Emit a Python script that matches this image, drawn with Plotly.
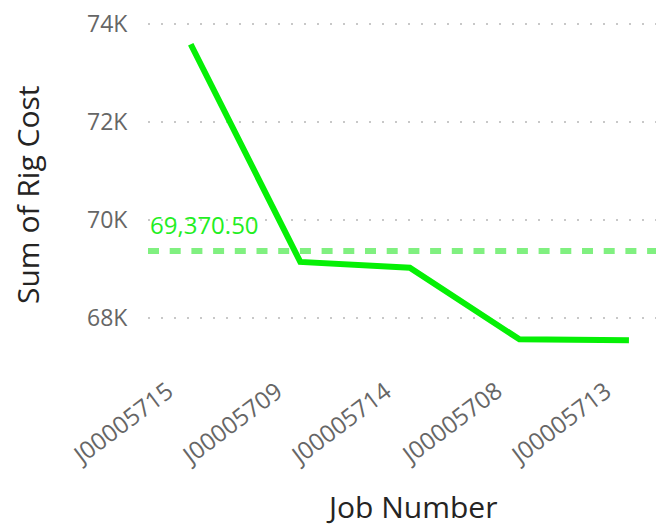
import plotly.graph_objects as go

jobs = ["J00005715", "J00005709", "J00005714", "J00005708", "J00005713"]
rig_cost = [73590, 69150, 69030, 67570, 67550]
average_value = 69370.50
y_ticks = [68000, 70000, 72000, 74000]
y_tick_labels = ["68K", "70K", "72K", "74K"]
x_title = "Job Number"
y_title = "Sum of Rig Cost"

FONT = "Open Sans, Noto Sans, sans-serif"

fig = go.Figure()
fig.add_trace(go.Scatter(
    x=jobs, y=rig_cost, mode="lines",
    line=dict(color="#05F005", width=6),
    hoverinfo="skip", showlegend=False,
))

fig.add_hline(y=average_value, line=dict(color="#80F080", width=6, dash="11px,10.7px"),
              layer="above")
fig.add_annotation(
    x=0, xref="paper", y=average_value, yref="y",
    text=f"{average_value:,.2f}", showarrow=False,
    xanchor="left", yanchor="middle", xshift=0, yshift=27,
    font=dict(family=FONT, size=24, color="#22EE22"),
)

# category tick labels
for j in jobs:
    fig.add_annotation(
        x=j, xref="x", y=0, yref="paper", text=j, showarrow=False,
        textangle=-37, xanchor="right", yanchor="top", xshift=-9, yshift=-11,
        font=dict(family=FONT, size=24, color="#666666"),
    )

# axis titles
fig.add_annotation(
    x=0, xref="paper", y=0, yref="paper", text=x_title, showarrow=False,
    font=dict(family=FONT, size=30, color="#252423"),
    xanchor="center", yanchor="middle",
)
fig.add_annotation(
    x=0, xref="paper", y=0, yref="paper", text=y_title, showarrow=False,
    textangle=-90,
    font=dict(family=FONT, size=30, color="#252423"),
    xanchor="center", yanchor="middle",
)

fig.update_layout(
    width=664, height=526,
    margin=dict(l=140, r=8, t=0, b=174),
    plot_bgcolor="white", paper_bgcolor="white",
    font=dict(family=FONT),
)
# place titles in pixel terms relative to plot area (plot: x 140..656, y 0..352)
plot_w, plot_h = 664 - 140 - 8, 526 - 174
fig.layout.annotations[-2].update(x=(403 - 140) / plot_w, y=(352 - 499) / plot_h)
fig.layout.annotations[-1].update(x=(19 - 140) / plot_w, y=(352 - 187) / plot_h)

fig.update_xaxes(
    type="category",
    range=[-0.39, 4.32],
    showticklabels=False,
    showgrid=False, zeroline=False, showline=False, ticks="",
    automargin=False,
)
fig.update_yaxes(
    range=[67149, 74330],
    tickvals=y_ticks, ticktext=y_tick_labels,
    tickfont=dict(family=FONT, size=23, color="#666666"),
    ticklabeloverflow="allow",
    showgrid=True, gridcolor="#C8C8C8", gridwidth=1.5, griddash="2px,11px",
    zeroline=False, showline=False,
    ticks="outside", ticklen=15, tickcolor="rgba(0,0,0,0)",
    automargin=False,
)

fig.write_html("out.html")
